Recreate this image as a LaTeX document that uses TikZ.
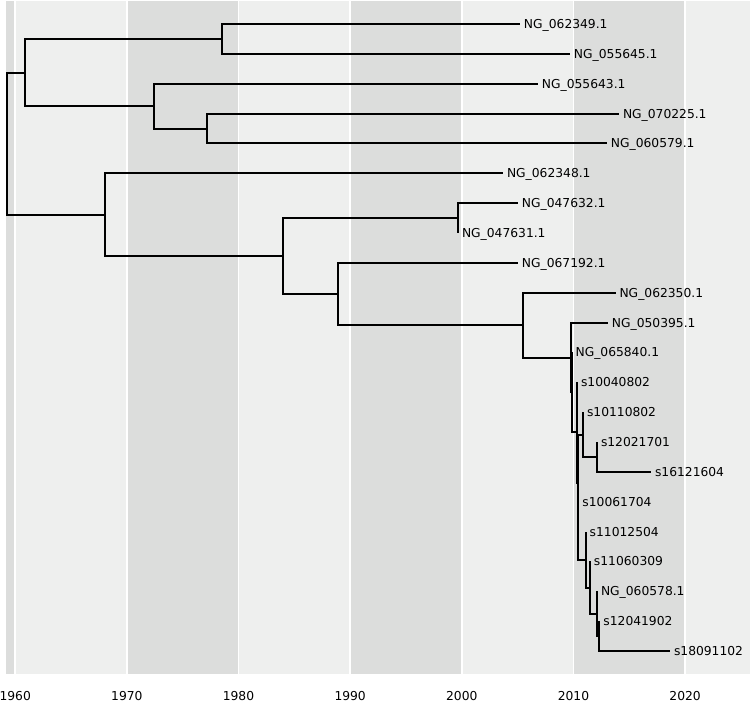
\documentclass[tikz,border=0pt]{standalone}
\usepackage{fontspec}
\setmainfont{DejaVu Sans}
\definecolor{bandlight}{RGB}{238,239,238}
\definecolor{banddark}{RGB}{220,221,220}
\tikzset{
  branch/.style={line width=2pt,line join=miter},
  tip/.style={anchor=west,inner xsep=3.8pt,inner ysep=0pt,text height=9pt,text depth=0pt},
  yearlabel/.style={inner sep=0pt,text height=9pt,text depth=0pt},
}
\begin{document}
\begin{tikzpicture}[x=11.165pt,y=-29.86pt,font=\fontsize{12.3pt}{14pt}\selectfont]
\useasboundingbox (-1.3614,0.1963) rectangle (65.813,23.739);
% decade bands
\fill[banddark] (-0.824,0.2465) rectangle (0,22.768);
\foreach \a/\b/\c in {0/10/bandlight,10/20/banddark,20/30/bandlight,30/40/banddark,40/50/bandlight,50/60/banddark,60/65.813/bandlight}
  \fill[\c] (\a,0.2465) rectangle (\b,22.768);
\foreach \d in {0,10,...,60}
  \draw[white,line width=1.5pt] (\d,0.2465) -- (\d,22.768);
\foreach \d [evaluate=\d as \yr using int(1960+\d)] in {0,10,...,60}
  \node(yr\yr) [yearlabel] at (\d,23.52) {\yr};

% inner nodes
\coordinate (root) at (-0.734,5.005);
\coordinate (a) at (0.878,2.625);
\coordinate (a1) at (18.52,1.5);
\coordinate (a2) at (12.43,3.75);
\coordinate (a3) at (17.18,4.5);
\coordinate (b) at (8.04,7.386);
\coordinate (c) at (23.99,8.771);
\coordinate (d) at (39.66,7.5);
\coordinate (e) at (28.91,10.0425);
\coordinate (f) at (45.48,11.085);
\coordinate (g) at (49.78,12.17);
\coordinate (g2) at (49.83,13.34);
\coordinate (h) at (50.32,14.68);
\coordinate (k) at (50.41,16.359);
\coordinate (m2) at (50.86,14.75);
\coordinate (m1) at (52.11,15.5);
\coordinate (n5) at (50.45,17.969);
\coordinate (n4) at (51.10,18.9375);
\coordinate (n3) at (51.48,19.875);
\coordinate (n2) at (52.11,20.75);
\coordinate (n1) at (52.33,21.5);

% tips
\node(t1) [tip] at (45.21,1) {NG\_062349.1};
\node(t2) [tip] at (49.69,2) {NG\_055645.1};
\node(t3) [tip] at (46.82,3) {NG\_055643.1};
\node(t4) [tip] at (54.08,4) {NG\_070225.1};
\node(t5) [tip] at (53.00,5) {NG\_060579.1};
\node(t6) [tip] at (43.69,6) {NG\_062348.1};
\node(t7) [tip] at (45.03,7) {NG\_047632.1};
\node(t8) [tip] at (d |- 0,8) {NG\_047631.1};
\node(t9) [tip] at (45.03,9) {NG\_067192.1};
\node(t10) [tip] at (53.77,10) {NG\_062350.1};
\node(t11) [tip] at (53.09,11) {NG\_050395.1};
\node(t12) [tip] at (g2 |- 0,12) {NG\_065840.1};
\node(t13) [tip] at (h |- 0,13) {s10040802};
\node(t14) [tip] at (m2 |- 0,14) {s10110802};
\node(t15) [tip] at (m1 |- 0,15) {s12021701};
\node(t16) [tip] at (56.95,16) {s16121604};
\node(t17) [tip] at (n5 |- 0,17) {s10061704};
\node(t18) [tip] at (n4 |- 0,18) {s11012504};
\node(t19) [tip] at (n3 |- 0,19) {s11060309};
\node(t20) [tip] at (n2 |- 0,20) {NG\_060578.1};
\node(t21) [tip] at (n1 |- 0,21) {s12041902};
\node(t22) [tip] at (58.65,22) {s18091102};

% branches
\draw[branch] (root) |- (a) (root) |- (b);
\draw[branch] (a) |- (a1) (a) |- (a2);
\draw[branch] (a1) |- (t1.west) (a1) |- (t2.west);
\draw[branch] (a2) |- (t3.west) (a2) |- (a3);
\draw[branch] (a3) |- (t4.west) (a3) |- (t5.west);
\draw[branch] (b) |- (t6.west) (b) |- (c);
\draw[branch] (c) |- (d) (c) |- (e);
\draw[branch] (d) |- (t7.west) (d) |- (t8.west);
\draw[branch] (e) |- (t9.west) (e) |- (f);
\draw[branch] (f) |- (t10.west) (f) |- (g);
\draw[branch] (g) |- (t11.west) (g) |- (g2);
\draw[branch] (g2) |- (t12.west) (g2) |- (h);
\draw[branch] (h) |- (t13.west) (h) |- (k);
\draw[branch] (k) |- (m2) (k) |- (n5);
\draw[branch] (m2) |- (t14.west) (m2) |- (m1);
\draw[branch] (m1) |- (t15.west) (m1) |- (t16.west);
\draw[branch] (n5) |- (t17.west) (n5) |- (n4);
\draw[branch] (n4) |- (t18.west) (n4) |- (n3);
\draw[branch] (n3) |- (t19.west) (n3) |- (n2);
\draw[branch] (n2) |- (t20.west) (n2) |- (n1);
\draw[branch] (n1) |- (t21.west) (n1) |- (t22.west);
\end{tikzpicture}
\end{document}
